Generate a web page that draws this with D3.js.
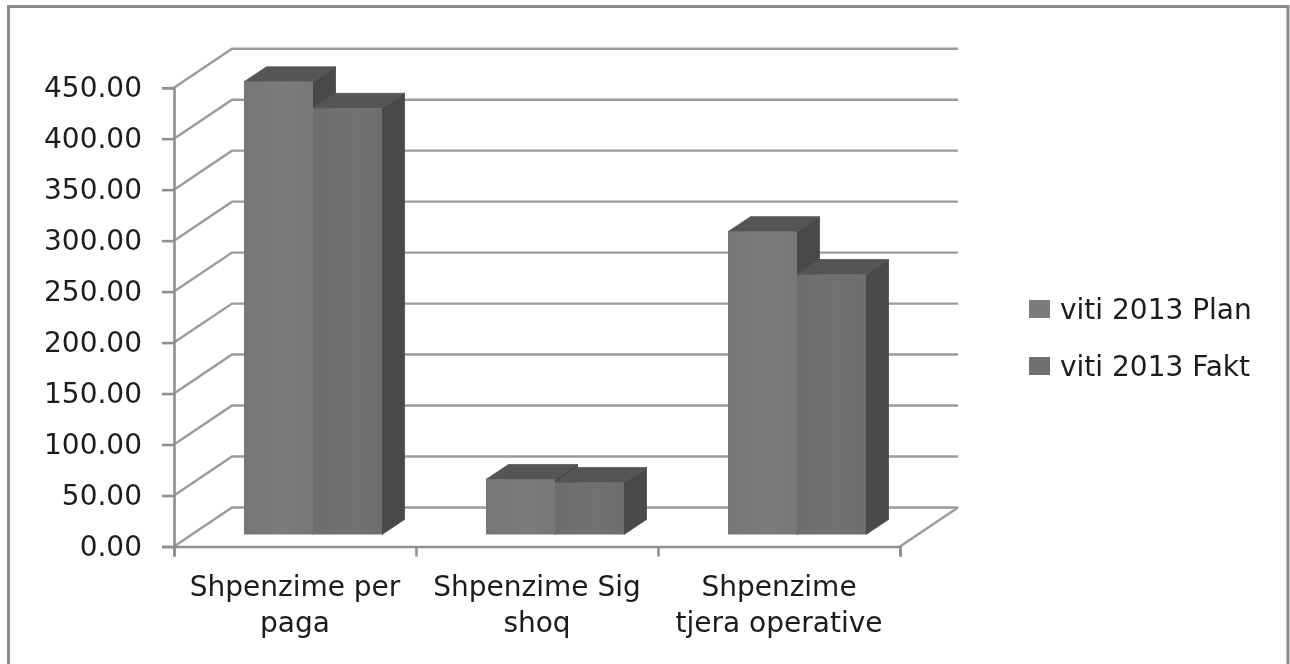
<!DOCTYPE html>
<html>
<head>
<meta charset="utf-8">
<style>
  html, body { margin: 0; padding: 0; background: #fff; }
  svg { display: block; }
  text { font-family: "DejaVu Sans", sans-serif; fill: #1c1c1c; }
</style>
</head>
<body>
<svg width="1290" height="664"></svg>
<script src="https://d3js.org/d3.v7.min.js"></script>
<script>

var categoryLines = [["Shpenzime per", "paga"], ["Shpenzime Sig", "shoq"], ["Shpenzime", "tjera operative"]],
    seriesNames = ["viti 2013 Plan", "viti 2013 Fakt"],
    planValues = [444, 54, 297],
    faktValues = [418, 51, 255],
    yTicks = [0, 50, 100, 150, 200, 250, 300, 350, 400, 450];

var svg = d3.select("svg"),
    gridColor = "#9b9b9b",
    fronts = ["url(#planFront)", "url(#faktFront)"],
    legendColors = ["#7b7b7b", "#6f6f6f"],
    topColor = "#555555",
    sideColor = "#4a4a4a",
    labelSize = 28,
    wallDx = 58, wallDy = -39,     // depth of the chart box
    barDx = 22.5, barDy = -15,     // depth of one bar
    floorLift = 12;                // bars stand this far back on the floor

var x = d3.scaleBand().domain(d3.range(categoryLines.length)).range([174, 900]),
    xEdges = d3.scaleLinear().domain([0, categoryLines.length]).range([174, 900]),
    y = d3.scaleLinear().domain([0, 450]).range([546.5, 87.7]),
    inner = d3.scaleBand().domain(d3.range(seriesNames.length)).range([70, 208]);

var defs = svg.append("defs");
defs.append("filter").attr("id", "soft")
    .attr("x", "-2%").attr("y", "-2%").attr("width", "104%").attr("height", "104%")
  .append("feGaussianBlur").attr("stdDeviation", 0.6);

[["planFront", "#777777", "#7c7c7c"], ["faktFront", "#6d6d6d", "#717171"]].forEach(function(g) {
  var grad = defs.append("linearGradient").attr("id", g[0]);
  grad.append("stop").attr("offset", "0%").attr("stop-color", g[1]);
  grad.append("stop").attr("offset", "60%").attr("stop-color", g[2]);
  grad.append("stop").attr("offset", "100%").attr("stop-color", g[1]);
});

var chart = svg.append("g").attr("filter", "url(#soft)");

// outer frame, open at the bottom like the screenshot
chart.append("path")
    .attr("d", "M8.5,664V6.5H1288V664")
    .attr("fill", "none")
    .attr("stroke", "#8c8c8c")
    .attr("stroke-width", 3);

// walls
var grid = chart.append("g")
    .attr("fill", "none")
    .attr("stroke", gridColor)
    .attr("stroke-width", 2.4);

grid.selectAll("path")
    .data(yTicks)
  .enter().append("path")
    .attr("d", function(d) {
      return "M174," + y(d) + "L" + (174 + wallDx) + "," + (y(d) + wallDy) + "H" + (900 + wallDx);
    });

grid.append("path")
    .attr("d", "M900," + y(0) + "L" + (900 + wallDx) + "," + (y(0) + wallDy));

// bars
var groups = chart.selectAll(".group")
    .data(categoryLines)
  .enter().append("g")
    .attr("class", "group")
    .attr("transform", function(d, i) { return "translate(" + x(i) + ",0)"; });

function prism(sel, s, values) {
  var w = inner.bandwidth(), x0 = inner(s), base = y(0) - floorLift;
  function top(i) { return base - (y(0) - y(values[i])); }

  // side
  sel.append("path")
      .attr("fill", sideColor)
      .attr("stroke", sideColor)
      .attr("stroke-width", 0.8)
      .attr("d", function(d, i) {
        return "M" + (x0 + w) + "," + top(i) + "l" + barDx + "," + barDy +
          "V" + (base + barDy) + "l" + (-barDx) + "," + (-barDy) + "Z";
      });
  // top
  sel.append("path")
      .attr("fill", topColor)
      .attr("stroke", topColor)
      .attr("stroke-width", 0.8)
      .attr("d", function(d, i) {
        return "M" + x0 + "," + top(i) + "l" + barDx + "," + barDy +
          "h" + w + "l" + (-barDx) + "," + (-barDy) + "Z";
      });
  // front
  sel.append("rect")
      .attr("fill", fronts[s])
      .attr("x", x0)
      .attr("y", function(d, i) { return top(i); })
      .attr("width", w)
      .attr("height", function(d, i) { return base - top(i); });
}

prism(groups, 0, planValues);
prism(groups, 1, faktValues);

// axes
var yAxis = chart.append("g")
    .attr("transform", "translate(174,0)")
    .call(d3.axisLeft(y).tickValues(yTicks).tickSize(12).tickPadding(20)
      .tickFormat(function(d) { return d.toFixed(2); }));

var xAxis = chart.append("g")
    .attr("transform", "translate(0," + y(0) + ")")
    .call(d3.axisBottom(xEdges).ticks(categoryLines.length).tickSize(10).tickFormat(""));

[yAxis, xAxis].forEach(function(a) {
  a.selectAll(".domain, line").attr("stroke", "#8f8f8f").attr("stroke-width", 2.6);
});
yAxis.selectAll("text")
    .attr("font-size", labelSize)
    .attr("fill", "#1c1c1c")
    .style("font-family", '"DejaVu Sans", sans-serif');

// category labels
chart.append("g").selectAll("text")
    .data(categoryLines)
  .enter().append("text")
    .attr("text-anchor", "middle")
    .attr("font-size", labelSize)
    .attr("transform", function(d, i) { return "translate(" + (x(i) + x.bandwidth() / 2) + ",0)"; })
  .selectAll("tspan")
    .data(function(d) { return d; })
  .enter().append("tspan")
    .attr("x", 0)
    .attr("y", function(d, i) { return 596 + i * 36; })
    .text(function(d) { return d; });

// legend
var legend = chart.append("g").selectAll("g")
    .data(seriesNames)
  .enter().append("g")
    .attr("transform", function(d, i) { return "translate(1029," + (300 + i * 57) + ")"; });

legend.append("rect")
    .attr("width", 21)
    .attr("height", 18)
    .attr("fill", function(d, i) { return legendColors[i]; });

legend.append("text")
    .attr("x", 31)
    .attr("y", 19)
    .attr("font-size", labelSize)
    .text(function(d) { return d; });

</script>
</body>
</html>
